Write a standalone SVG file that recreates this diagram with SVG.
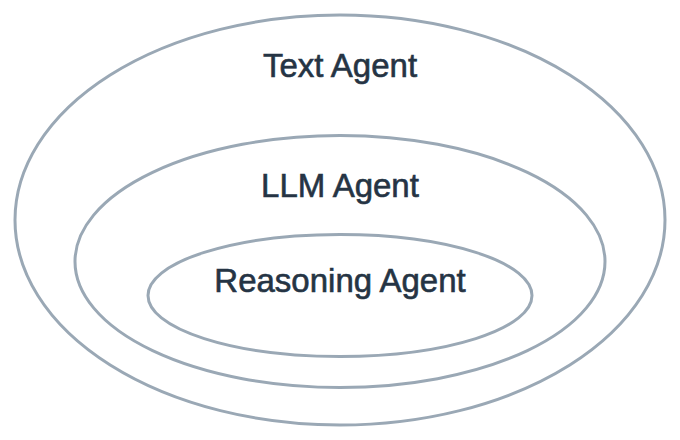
<svg xmlns="http://www.w3.org/2000/svg" width="680" height="440" viewBox="0 0 680 440">
  <style>
    .ring { fill: none; stroke: #9aa8b5; stroke-width: 3; }
    .label { font-family: "Liberation Sans", Arial, sans-serif; font-size: 33px; fill: #253444; stroke: #253444; stroke-width: 0.6; text-anchor: middle; }
  </style>
  <rect width="680" height="440" fill="#ffffff"/>
  <g id="text-agent">
    <ellipse class="ring" cx="340" cy="220" rx="325" ry="205"/>
    <text class="label" x="340" y="77">Text Agent</text>
  </g>
  <g id="llm-agent">
    <ellipse class="ring" cx="340" cy="261.5" rx="265" ry="126"/>
    <text class="label" x="340" y="197">LLM Agent</text>
  </g>
  <g id="reasoning-agent">
    <ellipse class="ring" cx="340" cy="295.5" rx="192" ry="61"/>
    <text class="label" x="340" y="292">Reasoning Agent</text>
  </g>
</svg>
